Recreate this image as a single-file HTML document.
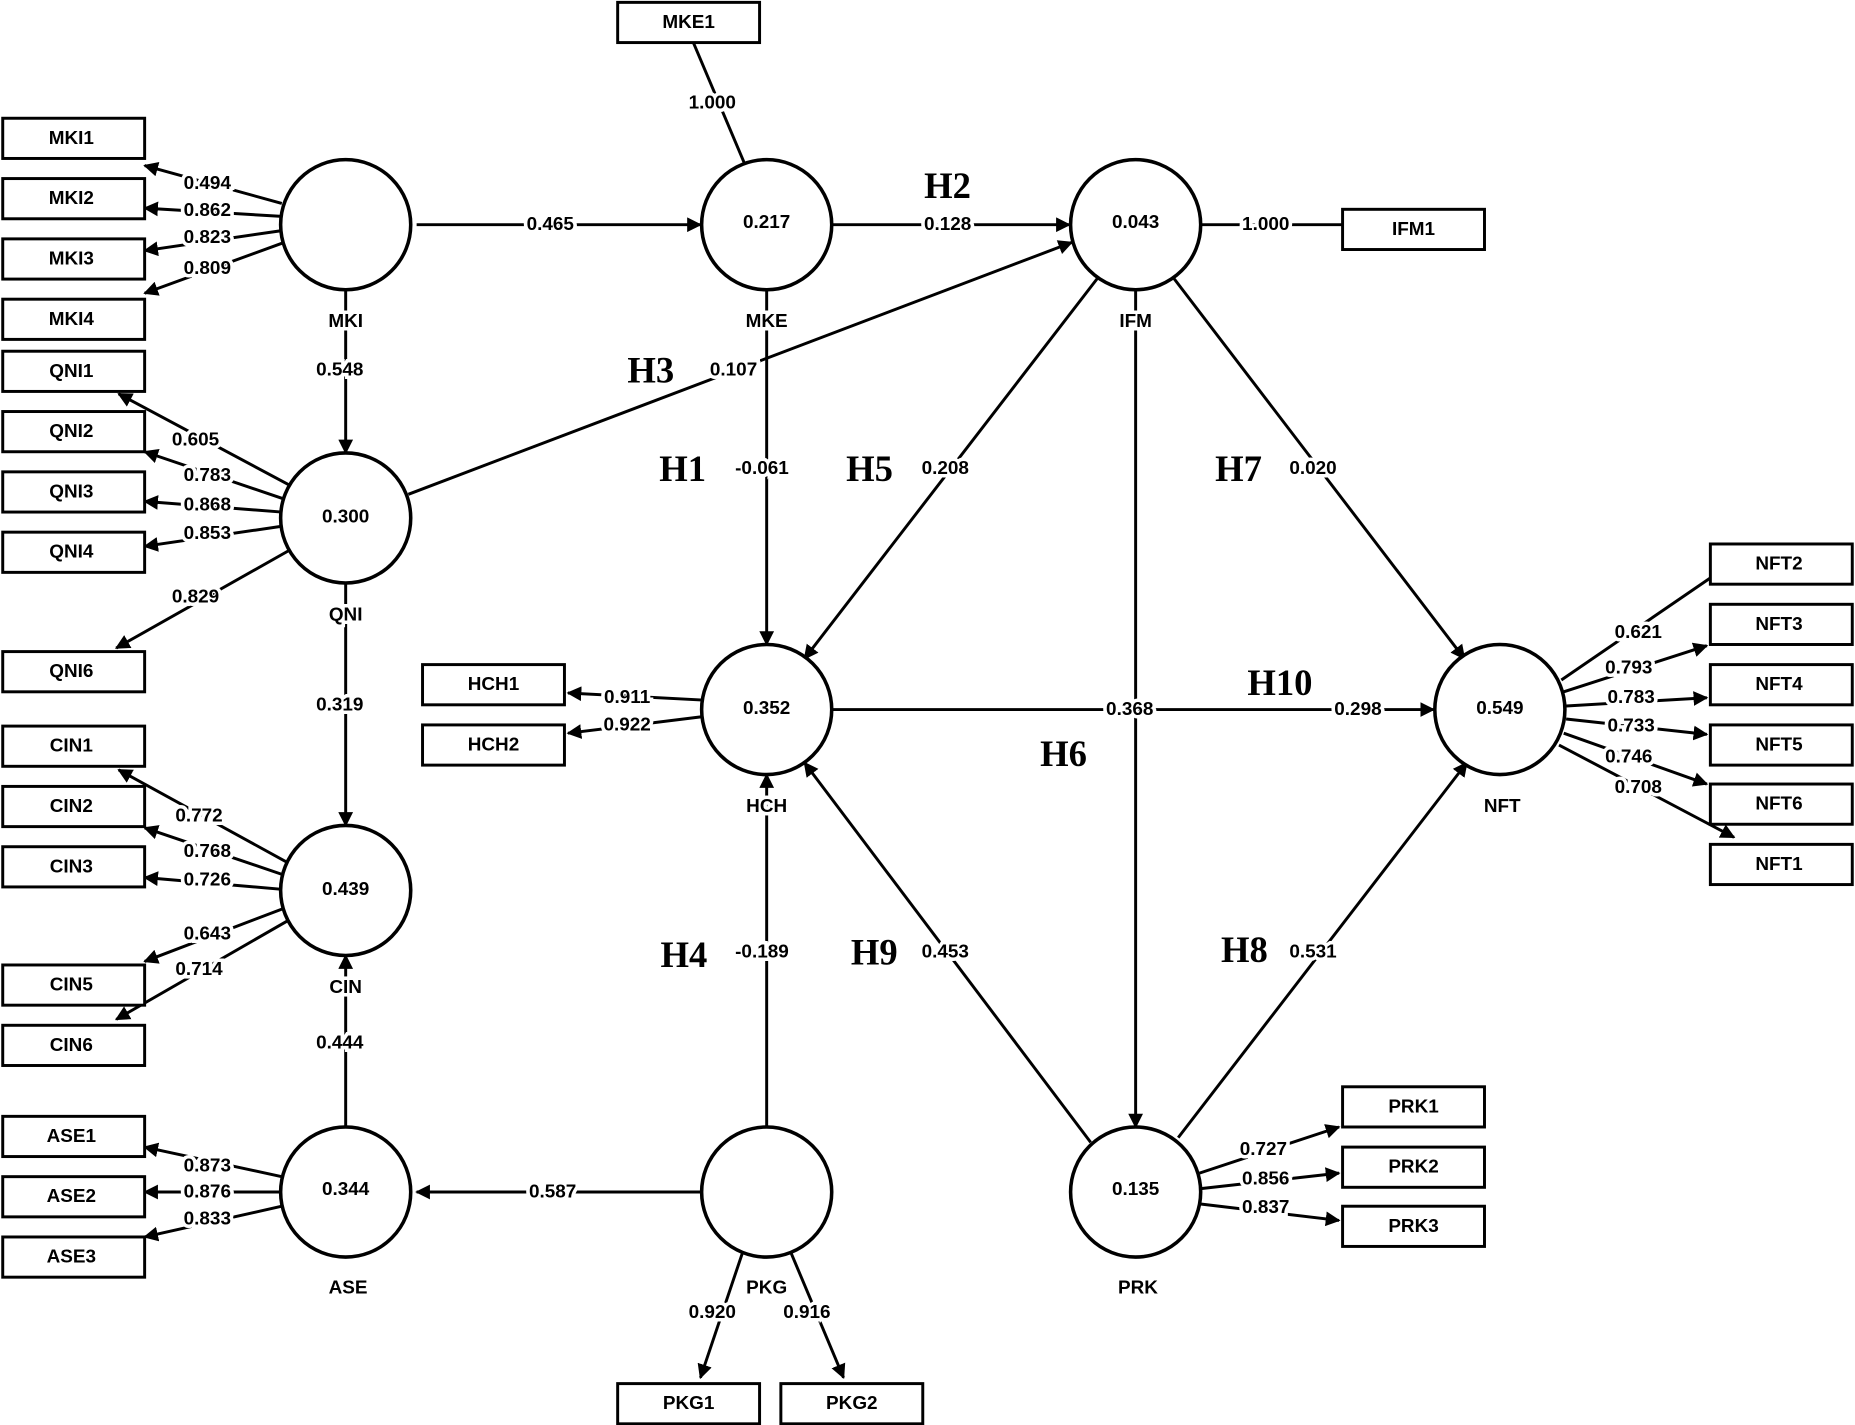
<!DOCTYPE html>
<html><head><meta charset="utf-8"><style>
html,body{margin:0;padding:0;background:#fff;}
svg{display:block}
text{font-family:"Liberation Sans",sans-serif;font-weight:bold;font-size:16px;fill:#000;text-anchor:middle;dominant-baseline:central}
.v{paint-order:stroke;stroke:#fff;stroke-width:6px}
.h{font-family:"Liberation Serif",serif;font-size:31px}
line{stroke:#000;stroke-width:2.5}
circle{fill:#fff;stroke:#000;stroke-width:3}
rect{fill:#fff;stroke:#000;stroke-width:2.5}
</style></head><body>
<svg width="1855" height="1425" viewBox="0 0 1568 1205" xmlns="http://www.w3.org/2000/svg">
<defs><marker id="a" viewBox="0 0 10 10" refX="9" refY="5" markerWidth="5" markerHeight="5" orient="auto"><path d="M0,0L10,5L0,10z" fill="#000"/></marker></defs>
<g marker-end="url(#a)">
<line x1="352" y1="190" x2="592" y2="190"/>
<line x1="704" y1="190" x2="904" y2="190"/>
<line x1="292" y1="245" x2="292" y2="383"/>
<line x1="345" y1="418" x2="906" y2="205"/>
<line x1="648" y1="245" x2="648" y2="545"/>
<line x1="928" y1="235" x2="680" y2="557"/>
<line x1="992" y1="235" x2="1238" y2="557"/>
<line x1="960" y1="245" x2="960" y2="953"/>
<line x1="704" y1="600" x2="1212" y2="600"/>
<line x1="292" y1="493" x2="292" y2="698"/>
<line x1="292" y1="953" x2="292" y2="808"/>
<line x1="592" y1="1008" x2="352" y2="1008"/>
<line x1="648" y1="953" x2="648" y2="655"/>
<line x1="922" y1="966" x2="680" y2="645"/>
<line x1="996" y1="962" x2="1240" y2="645"/>
<line x1="628" y1="1058" x2="592" y2="1165"/>
<line x1="668" y1="1058" x2="713" y2="1165"/>
<line x1="238" y1="172" x2="122" y2="140"/><line x1="238" y1="183" x2="122" y2="176"/><line x1="238" y1="195" x2="122" y2="212"/><line x1="240" y1="205" x2="122" y2="248"/>
<line x1="244" y1="410" x2="100" y2="333"/><line x1="240" y1="422" x2="122" y2="382"/><line x1="238" y1="433" x2="122" y2="424"/><line x1="238" y1="445" x2="122" y2="462"/><line x1="245" y1="465" x2="98" y2="548"/>
<line x1="244" y1="730" x2="100" y2="651"/><line x1="240" y1="740" x2="122" y2="700"/><line x1="238" y1="752" x2="122" y2="742"/><line x1="240" y1="768" x2="122" y2="813"/><line x1="244" y1="778" x2="98" y2="862"/>
<line x1="238" y1="995" x2="122" y2="970"/><line x1="238" y1="1008" x2="122" y2="1008"/><line x1="238" y1="1020" x2="122" y2="1046"/>
<line x1="594" y1="592" x2="480" y2="586"/><line x1="594" y1="606" x2="480" y2="620"/>
<line x1="1320" y1="575" x2="1466" y2="475"/><line x1="1322" y1="585" x2="1443" y2="546"/><line x1="1324" y1="597" x2="1443" y2="590"/><line x1="1324" y1="608" x2="1443" y2="621"/><line x1="1322" y1="620" x2="1443" y2="663"/><line x1="1318" y1="630" x2="1466" y2="708"/>
<line x1="1014" y1="992" x2="1132" y2="953"/><line x1="1016" y1="1005" x2="1132" y2="992"/><line x1="1014" y1="1018" x2="1132" y2="1032"/>
</g>
<line x1="1016" y1="190" x2="1135" y2="190"/>
<line x1="586" y1="36" x2="630" y2="140"/>
<g>
<circle cx="292" cy="190" r="55"/><circle cx="648" cy="190" r="55"/><circle cx="960" cy="190" r="55"/>
<circle cx="292" cy="438" r="55"/><circle cx="292" cy="753" r="55"/><circle cx="292" cy="1008" r="55"/>
<circle cx="648" cy="600" r="55"/><circle cx="648" cy="1008" r="55"/><circle cx="960" cy="1008" r="55"/><circle cx="1268" cy="600" r="55"/>
</g>
<g>
<rect x="2" y="100" width="120" height="34"/><rect x="2" y="151" width="120" height="34"/><rect x="2" y="202" width="120" height="34"/><rect x="2" y="253" width="120" height="34"/>
<rect x="2" y="297" width="120" height="34"/><rect x="2" y="348" width="120" height="34"/><rect x="2" y="399" width="120" height="34"/><rect x="2" y="450" width="120" height="34"/><rect x="2" y="551" width="120" height="34"/>
<rect x="2" y="614" width="120" height="34"/><rect x="2" y="665" width="120" height="34"/><rect x="2" y="716" width="120" height="34"/><rect x="2" y="816" width="120" height="34"/><rect x="2" y="867" width="120" height="34"/>
<rect x="2" y="944" width="120" height="34"/><rect x="2" y="995" width="120" height="34"/><rect x="2" y="1046" width="120" height="34"/>
<rect x="522" y="2" width="120" height="34"/><rect x="1135" y="177" width="120" height="34"/>
<rect x="357" y="562" width="120" height="34"/><rect x="357" y="613" width="120" height="34"/>
<rect x="1446" y="460" width="120" height="34"/><rect x="1446" y="511" width="120" height="34"/><rect x="1446" y="562" width="120" height="34"/><rect x="1446" y="613" width="120" height="34"/><rect x="1446" y="663" width="120" height="34"/><rect x="1446" y="714" width="120" height="34"/>
<rect x="1135" y="919" width="120" height="34"/><rect x="1135" y="970" width="120" height="34"/><rect x="1135" y="1020" width="120" height="34"/>
<rect x="522" y="1170" width="120" height="34"/><rect x="660" y="1170" width="120" height="34"/>
</g>
<g>
<text x="60" y="117">MKI1</text><text x="60" y="168">MKI2</text><text x="60" y="219">MKI3</text><text x="60" y="270">MKI4</text>
<text x="60" y="314">QNI1</text><text x="60" y="365">QNI2</text><text x="60" y="416">QNI3</text><text x="60" y="467">QNI4</text><text x="60" y="568">QNI6</text>
<text x="60" y="631">CIN1</text><text x="60" y="682">CIN2</text><text x="60" y="733">CIN3</text><text x="60" y="833">CIN5</text><text x="60" y="884">CIN6</text>
<text x="60" y="961">ASE1</text><text x="60" y="1012">ASE2</text><text x="60" y="1063">ASE3</text>
<text x="582" y="19">MKE1</text><text x="1195" y="194">IFM1</text>
<text x="417" y="579">HCH1</text><text x="417" y="630">HCH2</text>
<text x="1504" y="477">NFT2</text><text x="1504" y="528">NFT3</text><text x="1504" y="579">NFT4</text><text x="1504" y="630">NFT5</text><text x="1504" y="680">NFT6</text><text x="1504" y="731">NFT1</text>
<text x="1195" y="936">PRK1</text><text x="1195" y="987">PRK2</text><text x="1195" y="1037">PRK3</text>
<text x="582" y="1187">PKG1</text><text x="720" y="1187">PKG2</text>
<text x="648" y="188">0.217</text><text x="960" y="188">0.043</text><text x="292" y="437">0.300</text><text x="292" y="752">0.439</text><text x="292" y="1006">0.344</text><text x="648" y="599">0.352</text><text x="960" y="1006">0.135</text><text x="1268" y="599">0.549</text>
</g>
<g class="v">
<text class="v" x="292" y="272">MKI</text><text class="v" x="648" y="272">MKE</text><text class="v" x="960" y="272">IFM</text><text class="v" x="292" y="520">QNI</text><text class="v" x="292" y="835">CIN</text><text class="v" x="294" y="1089">ASE</text><text class="v" x="648" y="682">HCH</text><text class="v" x="648" y="1089">PKG</text><text class="v" x="962" y="1089">PRK</text><text class="v" x="1270" y="682">NFT</text>
<text class="v" x="465" y="190">0.465</text><text class="v" x="801" y="190">0.128</text><text class="v" x="1070" y="190">1.000</text><text class="v" x="602" y="87">1.000</text>
<text class="v" x="287" y="313">0.548</text><text class="v" x="620" y="313">0.107</text><text class="v" x="644" y="396">-0.061</text><text class="v" x="799" y="396">0.208</text><text class="v" x="1110" y="396">0.020</text>
<text class="v" x="955" y="600">0.368</text><text class="v" x="1148" y="600">0.298</text><text class="v" x="287" y="596">0.319</text><text class="v" x="287" y="882">0.444</text><text class="v" x="467" y="1008">0.587</text>
<text class="v" x="644" y="805">-0.189</text><text class="v" x="799" y="805">0.453</text><text class="v" x="1110" y="805">0.531</text><text class="v" x="602" y="1110">0.920</text><text class="v" x="682" y="1110">0.916</text>
<text class="v" x="175" y="155">0.494</text><text class="v" x="175" y="178">0.862</text><text class="v" x="175" y="201">0.823</text><text class="v" x="175" y="227">0.809</text>
<text class="v" x="165" y="372">0.605</text><text class="v" x="175" y="402">0.783</text><text class="v" x="175" y="427">0.868</text><text class="v" x="175" y="451">0.853</text><text class="v" x="165" y="505">0.829</text>
<text class="v" x="168" y="690">0.772</text><text class="v" x="175" y="720">0.768</text><text class="v" x="175" y="744">0.726</text><text class="v" x="175" y="790">0.643</text><text class="v" x="168" y="820">0.714</text>
<text class="v" x="175" y="986">0.873</text><text class="v" x="175" y="1008">0.876</text><text class="v" x="175" y="1031">0.833</text>
<text class="v" x="530" y="590">0.911</text><text class="v" x="530" y="613">0.922</text>
<text class="v" x="1385" y="535">0.621</text><text class="v" x="1377" y="565">0.793</text><text class="v" x="1379" y="590">0.783</text><text class="v" x="1379" y="614">0.733</text><text class="v" x="1377" y="640">0.746</text><text class="v" x="1385" y="666">0.708</text>
<text class="v" x="1068" y="972">0.727</text><text class="v" x="1070" y="997">0.856</text><text class="v" x="1070" y="1021">0.837</text>
</g>
<g>
<text class="h v" x="801" y="157">H2</text><text class="h v" x="550" y="313">H3</text><text class="h v" x="577" y="396">H1</text><text class="h v" x="735" y="396">H5</text><text class="h v" x="1047" y="396">H7</text>
<text class="h v" x="899" y="637">H6</text><text class="h v" x="1082" y="577">H10</text><text class="h v" x="578" y="807">H4</text><text class="h v" x="739" y="805">H9</text><text class="h v" x="1052" y="803">H8</text>
</g>
</svg>
</body></html>
